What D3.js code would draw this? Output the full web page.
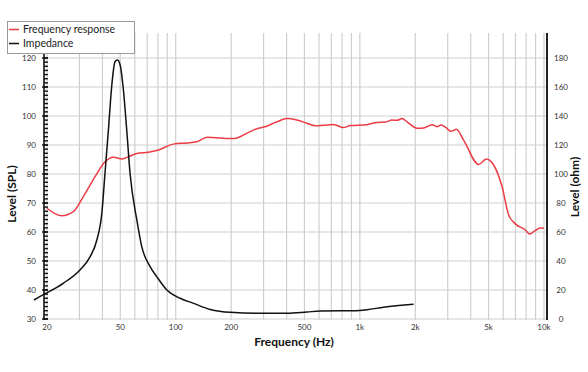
<!DOCTYPE html>
<html><head><meta charset="utf-8">
<script src="https://cdn.jsdelivr.net/npm/d3@7/dist/d3.min.js"></script>
<style>
html,body{margin:0;padding:0;background:#fff;}
svg{display:block;font-family:Lato,"Open Sans",sans-serif;}
</style></head>
<body>
<svg id="chart" width="588" height="372"></svg>
<script>
// ---- data ----
const freqTicks = [20, 50, 100, 200, 500, 1000, 2000, 5000, 10000];
const freqTickLabels = ["20", "50", "100", "200", "500", "1k", "2k", "5k", "10k"];
const splTicks = [30, 40, 50, 60, 70, 80, 90, 100, 110, 120];
const ohmTicks = [0, 20, 40, 60, 80, 100, 120, 140, 160, 180];
const seriesNames = ["Frequency response", "Impedance"];

const frFreq = [20, 24, 27.8, 31.5, 36.5, 41.3, 45.9, 50.9, 56.5, 61.5, 71, 80.5, 97, 115, 130, 148, 202, 215, 243, 281, 306, 354, 402, 455, 516, 572, 635, 719, 815, 887, 1093, 1238, 1374, 1494, 1590, 1693, 1803, 2043, 2218, 2465, 2624, 2758, 2948, 3126, 3342, 3660, 4416, 4862, 5330, 5920, 6428, 6990, 7920, 8360, 8790, 9558, 10000];
const frSPL = [68.2, 65.6, 67.0, 72.2, 79.1, 84.2, 85.8, 85.2, 86.2, 87.1, 87.5, 88.3, 90.3, 90.7, 91.1, 92.7, 92.2, 92.4, 94.0, 95.8, 96.3, 98.0, 99.1, 98.6, 97.5, 96.6, 96.8, 97.1, 96.0, 96.7, 97.0, 97.8, 97.9, 98.6, 98.5, 99.1, 98.0, 95.8, 95.9, 97.0, 96.3, 96.9, 95.9, 94.7, 95.4, 91.7, 83.3, 85.2, 83.1, 75.6, 65.9, 62.8, 60.7, 59.3, 60.1, 61.4, 61.3];

const impFreq = [17.0, 17.6, 24.5, 30.2, 34.3, 37.3, 39.7, 41.3, 43.1, 44.9, 46.8, 48.2, 49.9, 52.0, 54.2, 56.5, 61.5, 65.4, 72.6, 78.9, 89.5, 105.7, 125, 154, 198, 300, 402, 516, 609, 924, 1093, 1345, 1958];
const impOhm = [13.1, 14.3, 24.6, 33.8, 43.0, 54.5, 72.9, 100.5, 130.3, 160.2, 177.4, 178.6, 175.2, 157.9, 130.3, 100.5, 68.3, 49.9, 36.1, 29.2, 20.0, 14.3, 10.8, 6.6, 4.6, 3.9, 3.9, 4.8, 5.5, 5.7, 6.4, 8.1, 10.1];

// ---- layout ----
const svg = d3.select("#chart");
const plotTop = 33, plotBottom = 320, axisLeftX = 44, axisRightX = 547;
const x = d3.scaleLog().domain([20, 10000]).range([47, 544]);
const ySPL = d3.scaleLinear().domain([30, 120]).range([319, 58]);
const yOhm = d3.scaleLinear().domain([0, 180]).range([319, 58]);

// vertical grid
const gridF = [];
[10, 100, 1000].forEach(d => { for (let m = 1; m <= 9; m++) { const v = d * m; if (v >= 20 && v <= 10000) gridF.push(v); } });
gridF.push(10000);
svg.append("g").selectAll("line").data(gridF).join("line")
  .attr("x1", d => x(d)).attr("x2", d => x(d))
  .attr("y1", plotTop).attr("y2", plotBottom)
  .attr("stroke", "#cfcfcf").attr("stroke-width", 1.2);
// horizontal grid
svg.append("g").selectAll("line").data(splTicks).join("line")
  .attr("x1", axisLeftX).attr("x2", axisRightX)
  .attr("y1", d => ySPL(d)).attr("y2", d => ySPL(d))
  .attr("stroke", "#cfcfcf").attr("stroke-width", 1.2);

// left axis with minor ticks
const minor = d3.range(30, 120.01, 10 / 7);
const gl = svg.append("g");
gl.append("line").attr("x1", axisLeftX).attr("x2", axisLeftX).attr("y1", plotTop).attr("y2", plotBottom)
  .attr("stroke", "#111").attr("stroke-width", 1.6);
gl.selectAll("line.mn").data(minor).join("line").attr("class", "mn")
  .attr("x1", axisLeftX).attr("x2", axisLeftX + 4)
  .attr("y1", d => ySPL(d)).attr("y2", d => ySPL(d))
  .attr("stroke", "#111").attr("stroke-width", 1.4);
gl.selectAll("line.mj").data(splTicks).join("line").attr("class", "mj")
  .attr("x1", axisLeftX - 2).attr("x2", axisLeftX + 4)
  .attr("y1", d => ySPL(d)).attr("y2", d => ySPL(d))
  .attr("stroke", "#111").attr("stroke-width", 1.4);
gl.selectAll("text").data(splTicks).join("text")
  .attr("x", 36).attr("y", d => ySPL(d)).attr("dy", "0.35em")
  .attr("text-anchor", "end").attr("font-size", 8).attr("fill", "#333")
  .text(d => d);

// right axis
const gr = svg.append("g");
gr.append("line").attr("x1", axisRightX).attr("x2", axisRightX).attr("y1", plotTop).attr("y2", plotBottom)
  .attr("stroke", "#222").attr("stroke-width", 2);
gr.selectAll("text").data(ohmTicks).join("text")
  .attr("x", 561).attr("y", d => yOhm(d)).attr("dy", "0.35em")
  .attr("text-anchor", "middle").attr("font-size", 8).attr("fill", "#333")
  .text(d => d);

// bottom labels
svg.append("g").selectAll("text").data(freqTicks).join("text")
  .attr("x", d => x(d)).attr("y", 330)
  .attr("text-anchor", "middle").attr("font-size", 8).attr("fill", "#333")
  .text((d, i) => freqTickLabels[i]);

// titles
svg.append("text").attr("x", 294).attr("y", 346).attr("text-anchor", "middle")
  .attr("font-size", 12).attr("font-weight", "bold").attr("fill", "#111").text("Frequency (Hz)");
svg.append("text").attr("transform", "translate(16,194) rotate(-90)").attr("text-anchor", "middle")
  .attr("font-size", 12).attr("font-weight", "bold").attr("fill", "#111").text("Level (SPL)");
svg.append("text").attr("transform", "translate(579,187) rotate(-90)").attr("text-anchor", "middle")
  .attr("font-size", 12).attr("font-weight", "bold").attr("fill", "#111").text("Level (ohm)");

// lines
const frData = frFreq.map((f, i) => [f, frSPL[i]]);
const impData = impFreq.map((f, i) => [f, impOhm[i]]);
svg.append("path").datum(frData)
  .attr("d", d3.line().x(d => x(d[0])).y(d => ySPL(d[1])).curve(d3.curveMonotoneX))
  .attr("fill", "none").attr("stroke", "#ec3c46").attr("stroke-width", 1.5);
svg.append("path").datum(impData)
  .attr("d", d3.line().x(d => x(d[0])).y(d => yOhm(d[1])).curve(d3.curveMonotoneX))
  .attr("fill", "none").attr("stroke", "#111").attr("stroke-width", 1.5);

// legend
const lg = svg.append("g");
lg.append("rect").attr("x", 7.5).attr("y", 21.5).attr("width", 127).attr("height", 32)
  .attr("fill", "#fff").attr("stroke", "#999").attr("stroke-width", 1);
const lcol = ["#ec3c46", "#111"];
seriesNames.forEach((n, i) => {
  const yy = 29.5 + i * 14;
  lg.append("line").attr("x1", 9).attr("x2", 19).attr("y1", yy).attr("y2", yy)
    .attr("stroke", lcol[i]).attr("stroke-width", 1.5);
  lg.append("text").attr("x", 23).attr("y", yy).attr("dy", "0.35em")
    .attr("font-size", 10.5).attr("fill", "#222").text(n);
});
</script>
</body></html>
